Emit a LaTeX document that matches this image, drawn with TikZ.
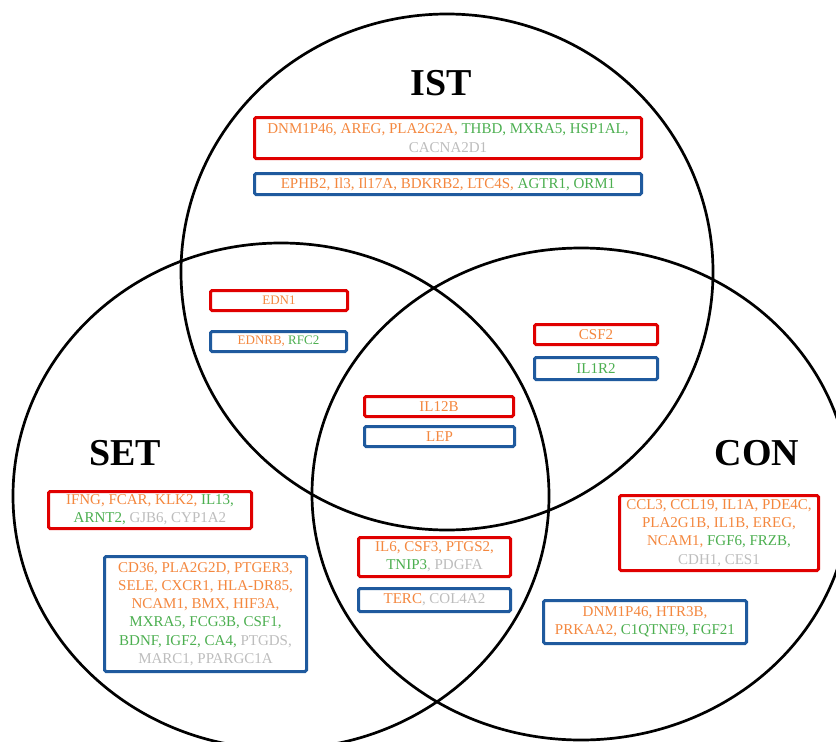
\documentclass[tikz,border=0pt]{standalone}
\usepackage{fontspec}
\setmainfont{Liberation Serif}
\definecolor{og}{HTML}{F4873E}
\definecolor{gn}{HTML}{4CAF50}
\definecolor{gy}{HTML}{BDBDBD}
\definecolor{rd}{HTML}{E00000}
\definecolor{bl}{HTML}{1F5A9E}
\newcommand{\cOr}[1]{\textcolor{og}{#1}}
\newcommand{\cGr}[1]{\textcolor{gn}{#1}}
\newcommand{\cGy}[1]{\textcolor{gy}{#1}}
\tikzset{
  gbox/.style={draw, line width=3pt, rounded corners=1.5pt, inner sep=0pt, align=center,
    font=\fontsize{15}{18.3}\selectfont},
  rbox/.style={gbox, draw=rd},
  bbox/.style={gbox, draw=bl},
  small/.style={font=\fontsize{13}{16}\selectfont},
  venn/.style={draw=black, line width=2.7pt},
  title/.style={font=\fontsize{38}{40}\selectfont\bfseries, anchor=base}
}
\begin{document}
\begin{tikzpicture}[x=1pt,y=-1pt]
\useasboundingbox (0,0) rectangle (836,742);
\clip (0,0) rectangle (836,742);
\fill[white] (0,0) rectangle (836,742);
\draw[venn] (447,272) ellipse [x radius=266, y radius=258];
\draw[venn] (281,496) ellipse [x radius=268, y radius=253];
\draw[venn] (581,494) ellipse [x radius=269, y radius=246];

\node[title] (ist) at (441,95) {IST};
\node[title] (set) at (125,465) {SET};
\node[title] (con) at (757,465) {CON};

\node[rbox, minimum width=387, minimum height=41] (ist1) at (448,138)
  {\cOr{DNM1P46, AREG, PLA2G2A,} \cGr{THBD, MXRA5, HSP1AL,}\\ \cGy{CACNA2D1}};
\node[bbox, minimum width=387, minimum height=21] (ist2) at (448,184)
  {\cOr{EPHB2, Il3, Il17A, BDKRB2, LTC4S,} \cGr{AGTR1, ORM1}};

\node[rbox, small, minimum width=137, minimum height=20] (edn1) at (279,300.5) {\cOr{EDN1}};
\node[bbox, small, minimum width=136, minimum height=20] (ednrb) at (278.5,341.5) {\cOr{EDNRB,} \cGr{RFC2}};

\node[rbox, minimum width=123, minimum height=20] (csf2) at (596,334.5) {\cOr{CSF2}};
\node[bbox, minimum width=123, minimum height=22] (il1r2) at (596,368.5) {\cGr{IL1R2}};

\node[rbox, minimum width=149, minimum height=20] (il12b) at (439,406.5) {\cOr{IL12B}};
\node[bbox, minimum width=150, minimum height=20] (lep) at (439.5,436.5) {\cOr{LEP}};

\node[rbox, minimum width=203, minimum height=37] (set1) at (150,510)
  {\cOr{IFNG, FCAR, KLK2,} \cGr{IL13,}\\ \cGr{ARNT2,} \cGy{GJB6, CYP1A2}};
\node[bbox, minimum width=202, minimum height=115] (set2) at (205.5,614)
  {\cOr{CD36, PLA2G2D, PTGER3,}\\ \cOr{SELE, CXCR1, HLA-DR85,}\\ \cOr{NCAM1, BMX, HIF3A,}\\
   \cGr{MXRA5, FCG3B, CSF1,}\\ \cGr{BDNF, IGF2, CA4,} \cGy{PTGDS,}\\ \cGy{MARC1, PPARGC1A}};

\node[rbox, minimum width=199, minimum height=75] (con1) at (719,533)
  {\cOr{CCL3, CCL19, IL1A, PDE4C,}\\ \cOr{PLA2G1B, IL1B, EREG,}\\ \cOr{NCAM1,} \cGr{FGF6, FRZB,}\\ \cGy{CDH1, CES1}};
\node[bbox, minimum width=203, minimum height=43] (con2) at (645,622)
  {\cOr{DNM1P46, HTR3B,}\\ \cOr{PRKAA2,} \cGr{C1QTNF9, FGF21}};

\node[rbox, minimum width=152, minimum height=39] (mid1) at (434.5,557)
  {\cOr{IL6, CSF3, PTGS2,}\\ \cGr{TNIP3}\cGy{, PDGFA}};
\node[bbox, minimum width=152, minimum height=23] (mid2) at (434.5,600)
  {\cOr{TERC}\cGy{, COL4A2}};
\end{tikzpicture}
\end{document}
